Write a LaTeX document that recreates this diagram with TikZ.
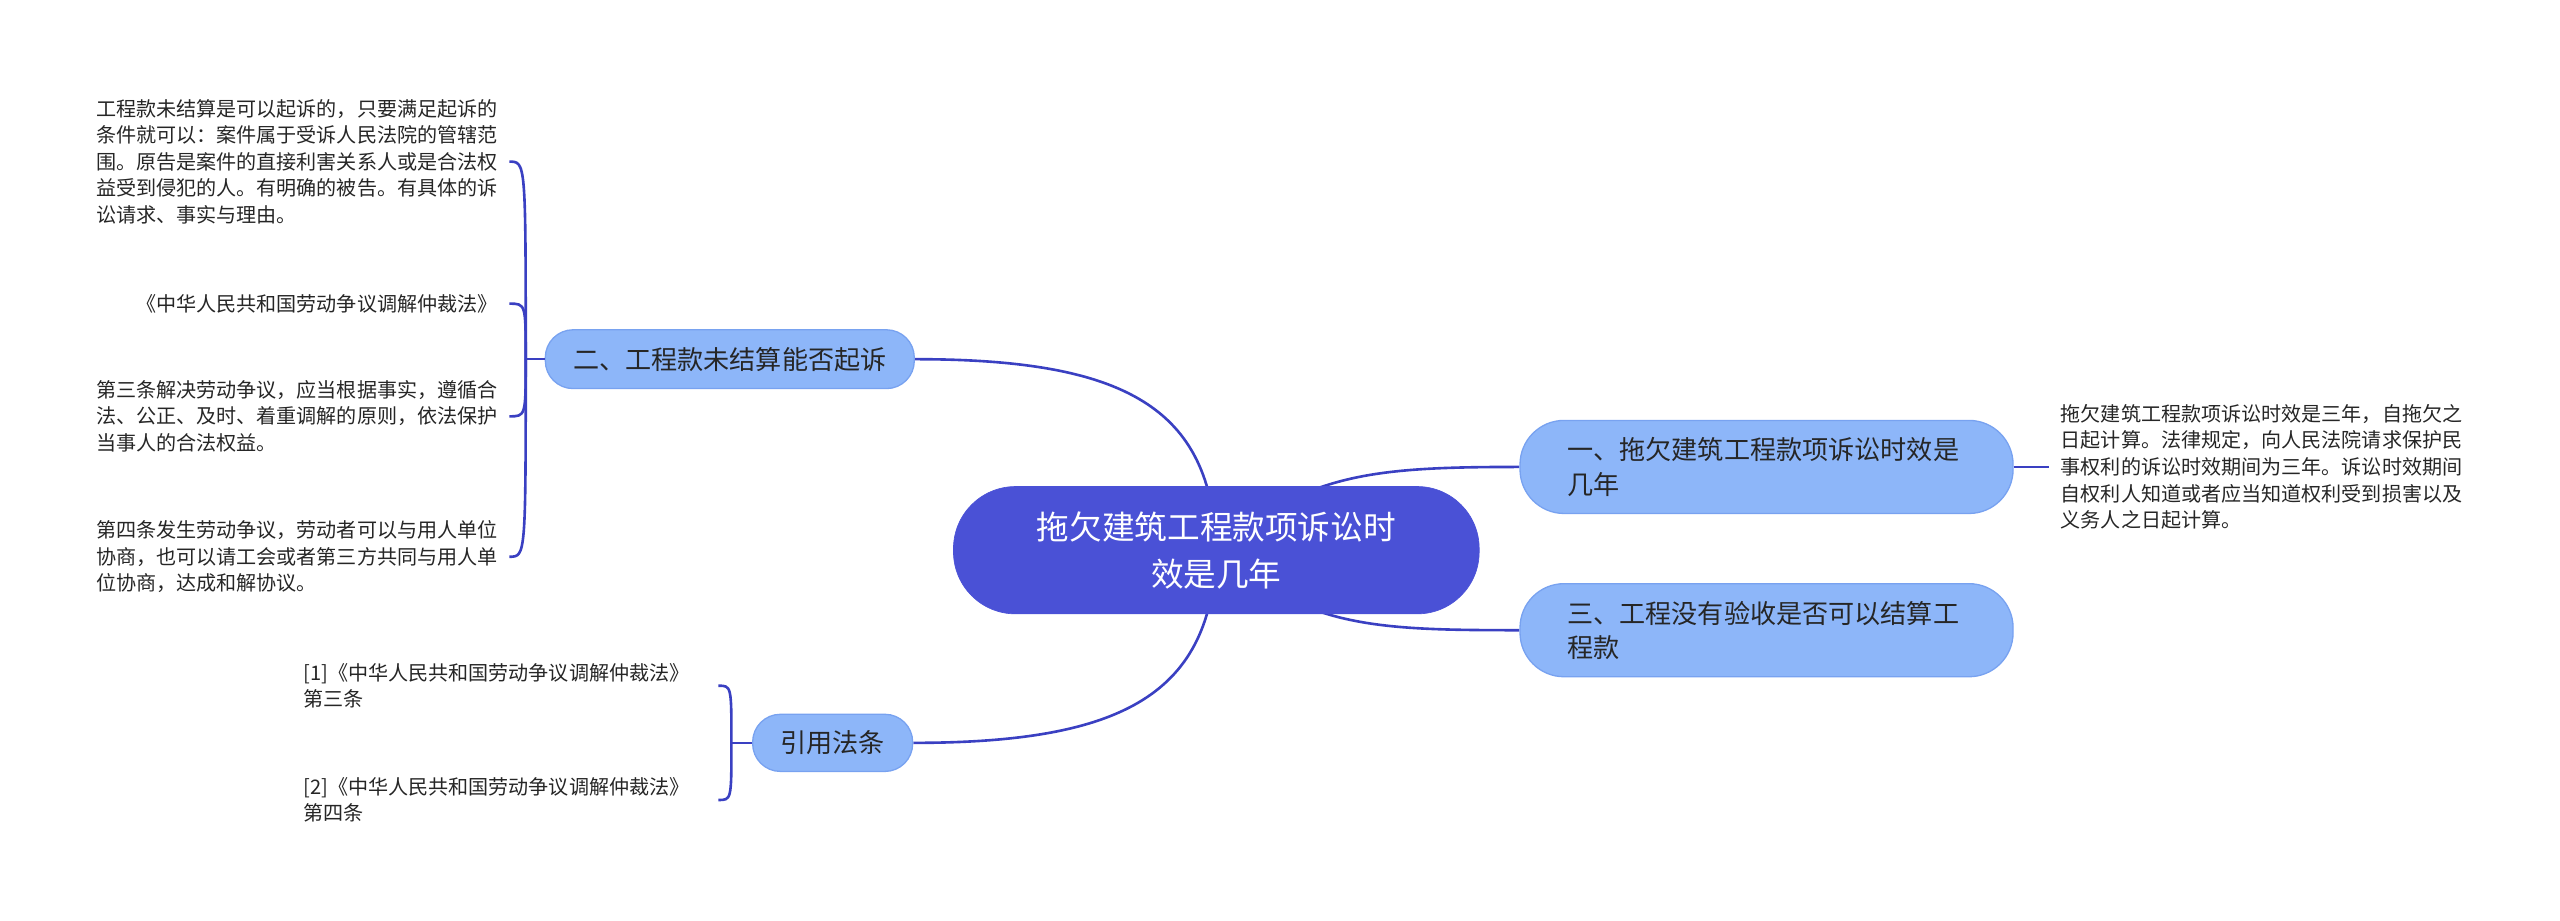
\documentclass[tikz,border=0pt]{standalone}
\usepackage{fontspec}
\setmainfont{Noto Sans CJK SC}
\definecolor{rootblue}{RGB}{74,81,214}
\definecolor{topicblue}{RGB}{141,182,249}
\definecolor{topicedge}{RGB}{120,162,240}
\definecolor{linkblue}{RGB}{58,64,194}
\definecolor{inktext}{RGB}{38,38,38}
\usetikzlibrary{backgrounds}

\begin{document}
\begin{tikzpicture}[x=1pt, y=-1pt,
          rootbox/.style={
              fill=rootblue,
              draw=rootblue,
              rounded corners=38pt,
              minimum width=322pt,
              minimum height=78pt,
              text=white,
              font=\fontsize{20}{29}\selectfont,
              align=center
            },
          topic/.style={
              fill=topicblue,
              draw=topicedge,
              line width=0.8pt,
              rounded corners=#1,
              text=inktext,
              font=\fontsize{16}{21}\selectfont
            },
          leaf/.style={
              text=inktext,
              font=\fontsize{12.3}{16.3}\selectfont,
              inner xsep=7pt,
              inner ysep=0pt,
              align=left
            },
          link/.style={draw=linkblue, line width=1.6pt}
        ]
        \useasboundingbox (0,0) rectangle (1568,564);

        % centre
        \node[rootbox] (root) at (745,337) {拖欠建筑工程款项诉讼时\\效是几年};

        % main topics
        \node[topic=17pt, minimum width=226pt, minimum height=36pt] (unsettled) at (447,220) {二、工程款未结算能否起诉};
        \node[topic=17pt, minimum width=98pt, minimum height=35pt] (cite) at (510,455) {引用法条};
        \node[topic=27pt, minimum width=302pt, minimum height=57pt, text width=244pt, align=left] (limit) at (1082,286)
        {一、拖欠建筑工程款项诉讼时效是\\几年};
        \node[topic=27pt, minimum width=302pt, minimum height=57pt, text width=244pt, align=left] (accept) at (1082,386)
        {三、工程没有验收是否可以结算工\\程款};

        % leaves of unsettled
        \node[leaf, anchor=east] (cond) at (312,99)
        {工程款未结算是可以起诉的，只要满足起诉的\\条件就可以：案件属于受诉人民法院的管辖范\\围。原告是案件的直接利害关系人或是合法权\\益受到侵犯的人。有明确的被告。有具体的诉\\讼请求、事实与理由。};
        \node[leaf, anchor=east] (lawname) at (312,186) {《中华人民共和国劳动争议调解仲裁法》};
        \node[leaf, anchor=east] (art3) at (312,255)
        {第三条解决劳动争议，应当根据事实，遵循合\\法、公正、及时、着重调解的原则，依法保护\\当事人的合法权益。};
        \node[leaf, anchor=east] (art4) at (312,341)
        {第四条发生劳动争议，劳动者可以与用人单位\\协商，也可以请工会或者第三方共同与用人单\\位协商，达成和解协议。};

        % leaves of cite
        \node[leaf, anchor=east, text width=250pt, inner xsep=4pt] (ref1) at (440,420)
        {[1]《中华人民共和国劳动争议调解仲裁法》\\第三条};
        \node[leaf, anchor=east, text width=250pt, inner xsep=4pt] (ref2) at (440,490)
        {[2]《中华人民共和国劳动争议调解仲裁法》\\第四条};

        % leaf of limit
        \node[leaf, anchor=west] (answer) at (1255,286)
        {拖欠建筑工程款项诉讼时效是三年，自拖欠之\\日起计算。法律规定，向人民法院请求保护民\\事权利的诉讼时效期间为三年。诉讼时效期间\\自权利人知道或者应当知道权利受到损害以及\\义务人之日起计算。};

        \coordinate (jl) at (322,220);
        \coordinate (jc) at (448,455);

        \begin{scope}[on background layer]
          \draw[link] (root.center) .. controls (742,250) and (690,220) .. (unsettled.east);
          \draw[link] (root.center) .. controls (742,424) and (690,455) .. (cite.east);
          \draw[link] (root.center) .. controls (800,290) and (840,286) .. (limit.west);
          \draw[link] (root.center) .. controls (800,384) and (840,386) .. (accept.west);
        \end{scope}

        \draw[link] (unsettled.west) -- (jl);
        \foreach \leafname in {cond, lawname, art3, art4}
          \draw[link] (jl) .. controls (jl |- \leafname.east) .. (\leafname.east);

        \draw[link] (cite.west) -- (jc);
        \foreach \leafname in {ref1, ref2}
          \draw[link] (jc) .. controls (jc |- \leafname.east) .. (\leafname.east);

        \draw[link] (limit.east) -- (answer.west);
      \end{tikzpicture}
\end{document}
